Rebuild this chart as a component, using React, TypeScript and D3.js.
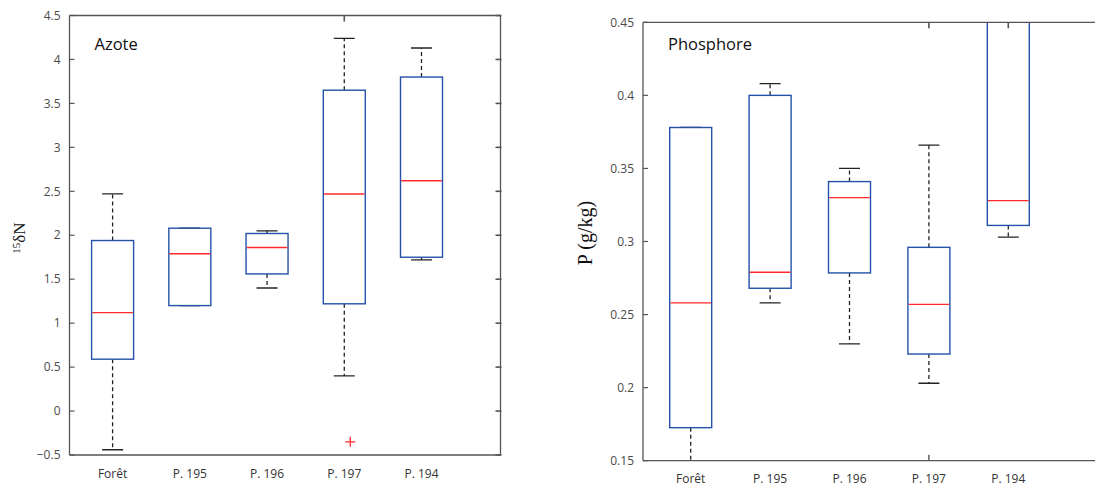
import React from "react";
import * as d3 from "d3";

const categories = ["Forêt", "P. 195", "P. 196", "P. 197", "P. 194"];

// Azote (15δN)
const azoteLow = [-0.44, 1.2, 1.4, 0.4, 1.72];
const azoteQ1 = [0.59, 1.2, 1.56, 1.22, 1.75];
const azoteMedian = [1.12, 1.79, 1.86, 2.47, 2.62];
const azoteQ3 = [1.94, 2.08, 2.02, 3.65, 3.8];
const azoteHigh = [2.47, 2.08, 2.05, 4.24, 4.13];
const azoteOutliers: number[][] = [[], [], [], [-0.35], []];
const azoteTicks = [-0.5, 0, 0.5, 1, 1.5, 2, 2.5, 3, 3.5, 4, 4.5];

// Phosphore (g/kg)
const phosLow = [0.13, 0.258, 0.23, 0.203, 0.303];
const phosQ1 = [0.1726, 0.268, 0.2785, 0.223, 0.311];
const phosMedian = [0.258, 0.279, 0.33, 0.257, 0.328];
const phosQ3 = [0.378, 0.4, 0.341, 0.296, 0.47];
const phosHigh = [0.378, 0.408, 0.35, 0.366, 0.5];
const phosOutliers: number[][] = [[], [], [], [], []];
const phosTicks = [0.15, 0.2, 0.25, 0.3, 0.35, 0.4, 0.45];

const AXIS = "#555";
const BLUE = "#2452a8";
const RED = "#ff2a2a";
const SANS = "'Open Sans', 'Noto Sans', sans-serif";
const SERIF = "'Liberation Serif', 'DejaVu Serif', serif";

type PanelProps = {
  id: string;
  left: number;
  right: number;
  top: number;
  bottom: number;
  xFirst: number;
  xLast: number;
  domain: [number, number];
  ticks: number[];
  fmt: (v: number) => string;
  low: number[];
  q1: number[];
  med: number[];
  q3: number[];
  high: number[];
  outliers: number[][];
  title: string;
  rightAxis: boolean;
  lineEnd: number;
  topTicks: string[];
  bottomTicks: string[];
  labelY: number;
};

function Panel(p: PanelProps) {
  const x = d3.scalePoint<string>().domain(categories).range([p.xFirst, p.xLast]);
  const y = d3.scaleLinear().domain(p.domain).range([p.bottom, p.top]);
  const boxW = 42;
  const capW = 21;
  const clip = `clip-${p.id}`;
  return (
    <g>
      <defs>
        <clipPath id={clip}>
          <rect x={p.left} y={p.top} width={p.lineEnd - p.left} height={p.bottom - p.top} />
        </clipPath>
      </defs>
      {categories.map((c) => (
        <text
          key={"lab" + c}
          x={x(c)!}
          y={p.labelY}
          textAnchor="middle"
          fontFamily={SANS}
          fontSize={12}
          fill="#333"
        >
          {c}
        </text>
      ))}
      <text x={p.left + 25} y={50} fontFamily={SANS} fontSize={16.5} fill="#111">
        {p.title}
      </text>
      {/* boxes */}
      <g clipPath={`url(#${clip})`}>
        {categories.map((c, i) => {
          const cx = x(c)!;
          return (
            <g key={"box" + c}>
              <line x1={cx} x2={cx} y1={y(p.q3[i])} y2={y(p.high[i])} stroke="#222" strokeWidth={1.3} strokeDasharray="4,3" />
              <line x1={cx} x2={cx} y1={y(p.q1[i])} y2={y(p.low[i])} stroke="#222" strokeWidth={1.3} strokeDasharray="4,3" />
              <line x1={cx - capW / 2} x2={cx + capW / 2} y1={y(p.high[i])} y2={y(p.high[i])} stroke="#222" strokeWidth={1.3} />
              <line x1={cx - capW / 2} x2={cx + capW / 2} y1={y(p.low[i])} y2={y(p.low[i])} stroke="#222" strokeWidth={1.3} />
              <rect
                x={cx - boxW / 2}
                y={y(p.q3[i])}
                width={boxW}
                height={y(p.q1[i]) - y(p.q3[i])}
                fill="white"
                stroke={BLUE}
                strokeWidth={1.4}
              />
              <line x1={cx - boxW / 2 + 0.7} x2={cx + boxW / 2 - 0.7} y1={y(p.med[i])} y2={y(p.med[i])} stroke={RED} strokeWidth={1.4} />
              {p.outliers[i].map((o, k) => (
                <g key={k}>
                  <line x1={cx + 6 - 5} x2={cx + 6 + 5} y1={y(o)} y2={y(o)} stroke={RED} strokeWidth={1.3} />
                  <line x1={cx + 6} x2={cx + 6} y1={y(o) - 5} y2={y(o) + 5} stroke={RED} strokeWidth={1.3} />
                </g>
              ))}
            </g>
          );
        })}
      </g>
      {/* axes (drawn over the boxes) */}
      <line x1={p.left} x2={p.lineEnd} y1={p.top} y2={p.top} stroke={AXIS} strokeWidth={1.3} />
      <line x1={p.left} x2={p.lineEnd} y1={p.bottom} y2={p.bottom} stroke={AXIS} strokeWidth={1.3} />
      <line x1={p.left} x2={p.left} y1={p.top} y2={p.bottom} stroke={AXIS} strokeWidth={1.3} />
      {p.rightAxis && (
        <line x1={p.right} x2={p.right} y1={p.top} y2={p.bottom} stroke={AXIS} strokeWidth={1.3} />
      )}
      {p.ticks.map((t) => (
        <g key={t}>
          <line x1={p.left} x2={p.left + 5} y1={y(t)} y2={y(t)} stroke={AXIS} strokeWidth={1.2} />
          {p.rightAxis && (
            <line x1={p.right - 5} x2={p.right + 1} y1={y(t)} y2={y(t)} stroke={AXIS} strokeWidth={1.6} />
          )}
          <text
            x={p.left - 9}
            y={y(t)}
            dy="0.35em"
            textAnchor="end"
            fontFamily={SANS}
            fontSize={12}
            fill="#4a4a4a"
          >
            {p.fmt(t)}
          </text>
        </g>
      ))}
      {p.topTicks.map((c) => (
        <line key={"tt" + c} x1={x(c)!} x2={x(c)!} y1={p.top} y2={p.top + 6} stroke={AXIS} strokeWidth={1.6} />
      ))}
      {p.bottomTicks.map((c) => (
        <line key={"bt" + c} x1={x(c)!} x2={x(c)!} y1={p.bottom} y2={p.bottom - 6} stroke={AXIS} strokeWidth={1.4} />
      ))}
    </g>
  );
}

export default function App() {
  return (
    <svg
      width={1095}
      height={487}
      style={{ position: "absolute", left: 0, top: 0, background: "white" }}
    >
      <rect width={1095} height={487} fill="white" />
      <Panel
        id="azote"
        left={69.5}
        right={500.5}
        top={15.5}
        bottom={455}
        xFirst={112.6}
        xLast={421.5}
        domain={[-0.5, 4.5]}
        ticks={azoteTicks}
        fmt={(v) => d3.format("")(v)}
        low={azoteLow}
        q1={azoteQ1}
        med={azoteMedian}
        q3={azoteQ3}
        high={azoteHigh}
        outliers={azoteOutliers}
        title="Azote"
        rightAxis={true}
        lineEnd={500.5}
        topTicks={["P. 197"]}
        bottomTicks={[]}
        labelY={478}
      />
      <Panel
        id="phos"
        left={643}
        right={1095}
        top={22.3}
        bottom={460.7}
        xFirst={690.7}
        xLast={1008.3}
        domain={[0.15, 0.45]}
        ticks={phosTicks}
        fmt={(v) => d3.format("")(+v.toFixed(2))}
        low={phosLow}
        q1={phosQ1}
        med={phosMedian}
        q3={phosQ3}
        high={phosHigh}
        outliers={phosOutliers}
        title="Phosphore"
        rightAxis={false}
        lineEnd={1095}
        topTicks={["P. 197", "P. 194"]}
        bottomTicks={["P. 197"]}
        labelY={482.5}
      />
      {/* y-axis titles */}
      <text
        transform="translate(25,238) rotate(-90)"
        textAnchor="middle"
        fontFamily={SERIF}
        fontSize={17}
        fill="#111"
      >
        <tspan fontSize={11} dy="-5">15</tspan>
        <tspan dy="5">δN</tspan>
      </text>
      <text
        transform="translate(592,233) rotate(-90)"
        textAnchor="middle"
        fontFamily={SERIF}
        fontSize={20}
        fill="#111"
      >
        P (g/kg)
      </text>
    </svg>
  );
}
